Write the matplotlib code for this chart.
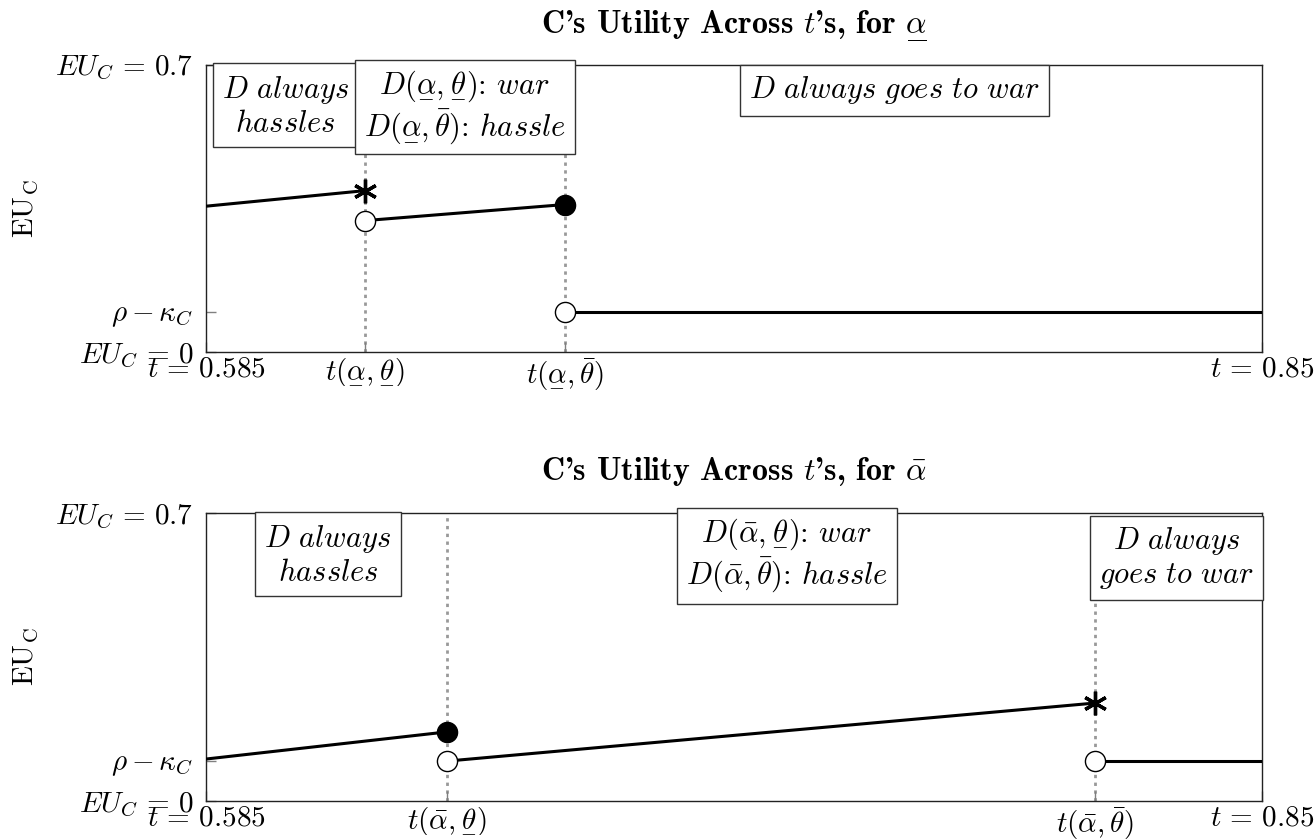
import matplotlib
matplotlib.use("Agg")
import matplotlib.pyplot as plt

plt.rcParams['mathtext.fontset'] = 'cm'
plt.rcParams['font.family'] = ['cmr10', 'DejaVu Serif']
plt.rcParams['axes.formatter.use_mathtext'] = True

# ---------------- data ----------------
t_min, t_max = 0.585, 0.85
u_min, u_max = 0.0, 0.7
war_payoff = 0.097  # rho - kappa_C

# panel for underline-alpha
lo_cuts = [0.625, 0.675]
lo_hassle_t = [0.585, 0.625]
lo_hassle_u = [0.355, 0.393]
lo_mixed_t = [0.625, 0.675]
lo_mixed_u = [0.320, 0.359]
lo_war_t = [0.675, 0.85]
lo_war_u = [0.097, 0.097]

# panel for bar-alpha
hi_cuts = [0.6455, 0.808]
hi_hassle_t = [0.585, 0.6455]
hi_hassle_u = [0.102, 0.168]
hi_mixed_t = [0.6455, 0.808]
hi_mixed_u = [0.097, 0.238]
hi_war_t = [0.808, 0.85]
hi_war_u = [0.097, 0.097]

ul = r"\underset{-}"
lo_xticks = [t_min] + lo_cuts + [t_max]
lo_xticklabels = [r"$t\,=\,0.585$", r"$t(" + ul + r"{\alpha}," + ul + r"{\theta})$",
                  r"$t(" + ul + r"{\alpha},\bar{\theta})$", r"$t\,=\,0.85$"]
hi_xticks = [t_min] + hi_cuts + [t_max]
hi_xticklabels = [r"$t\,=\,0.585$", r"$t(\bar{\alpha}," + ul + r"{\theta})$",
                  r"$t(\bar{\alpha},\bar{\theta})$", r"$t\,=\,0.85$"]
yticks = [u_min, war_payoff, u_max]
yticklabels = [r"$EU_C\,=\,0$", r"$\rho - \kappa_C$", r"$EU_C\,=\,0.7$"]

lo_title = r"C's Utility Across $t$'s, for $\underset{\overline{\ \ \,}}{\alpha}$"
lo_title_fallback = r"C's Utility Across $t$'s, for $" + ul + r"{\alpha}$"
hi_title = r"C's Utility Across $t$'s, for $\bar{\alpha}$"

# ---------------- figure ----------------
W, H = 1315, 840
fig = plt.figure(figsize=(W / 100, H / 100), dpi=100)
ax1 = fig.add_axes([206 / W, (H - 352) / H, 1056 / W, 287.5 / H])
ax2 = fig.add_axes([206 / W, (H - 801) / H, 1056 / W, 288 / H])

FS = 21
BFS = 22
TFS = 23
ast = (6, 2, 0)
msz = 14.5
line_kw = dict(color='black', lw=2.2, solid_capstyle='butt', zorder=3)
open_kw = dict(marker='o', ms=msz, mfc='white', mec='black', mew=1.0, ls='none', zorder=5)
fill_kw = dict(marker='o', ms=msz, mfc='black', mec='black', mew=1.0, ls='none', zorder=5)
ast_kw = dict(marker=ast, ms=17, mec='black', mew=2.4, ls='none', zorder=5)
box = dict(boxstyle='square,pad=0.3', fc='white', ec='#333333', lw=1.0)
title_kw = dict(fontsize=TFS, fontweight='bold', family=['cmb10', 'DejaVu Serif'], pad=24)


def style(ax, xticks, xticklabels, title):
    ax.set_xlim(t_min, t_max)
    ax.set_ylim(u_min, u_max)
    ax.set_xticks(xticks)
    ax.set_xticklabels(xticklabels, fontsize=FS)
    ax.set_yticks(yticks)
    ax.set_yticklabels(yticklabels, fontsize=FS)
    ax.tick_params(direction='in', length=7, width=1, color='#808080',
                   top=False, right=False)
    ax.tick_params(axis='x', pad=3)
    ax.tick_params(axis='y', pad=9)
    for s in ax.spines.values():
        s.set_color('#222222')
        s.set_linewidth(1.0)
    ax.set_title(title, **title_kw)
    ax.set_ylabel(r"$\mathrm{EU_C}$", fontsize=FS)
    ax.yaxis.set_label_coords(-0.157, 0.5)


# ---------- top panel ----------
for c in lo_cuts:
    ax1.axvline(c, color='#999999', lw=2.0, ls=(0, (1.2, 1.6)), zorder=1)
ax1.plot(lo_hassle_t, lo_hassle_u, **line_kw)
ax1.plot(lo_mixed_t, lo_mixed_u, **line_kw)
ax1.plot(lo_war_t, lo_war_u, **line_kw)
ax1.plot(lo_hassle_t[-1], lo_hassle_u[-1], **ast_kw)
ax1.plot(lo_mixed_t[0], lo_mixed_u[0], **open_kw)
ax1.plot(lo_mixed_t[-1], lo_mixed_u[-1], **fill_kw)
ax1.plot(lo_war_t[0], lo_war_u[0], **open_kw)
style(ax1, lo_xticks, lo_xticklabels, lo_title)

ax1.text(0.0753, 0.856, r"$D\ always$" + "\n" + r"$hassles$", transform=ax1.transAxes,
         ha='center', va='center', fontsize=BFS, bbox=box, zorder=6, linespacing=1.2)
ax1.text(0.245, 0.852, r"$D(" + ul + r"{\alpha}," + ul + r"{\theta})$: $war$" + "\n" +
         r"$D(" + ul + r"{\alpha},\bar{\theta})$: $hassle$", transform=ax1.transAxes,
         ha='center', va='center', fontsize=BFS, bbox=box, zorder=6, linespacing=1.2)
ax1.text(0.652, 0.9096, r"$D\ always\ goes\ to\ war$", transform=ax1.transAxes,
         ha='center', va='center', fontsize=BFS, bbox=box, zorder=6)

# ---------- bottom panel ----------
for c in hi_cuts:
    ax2.axvline(c, color='#999999', lw=2.0, ls=(0, (1.2, 1.6)), zorder=1)
ax2.plot(hi_hassle_t, hi_hassle_u, **line_kw)
ax2.plot(hi_mixed_t, hi_mixed_u, **line_kw)
ax2.plot(hi_war_t, hi_war_u, **line_kw)
ax2.plot(hi_hassle_t[-1], hi_hassle_u[-1], **fill_kw)
ax2.plot(hi_mixed_t[0], hi_mixed_u[0], **open_kw)
ax2.plot(hi_mixed_t[-1], hi_mixed_u[-1], **ast_kw)
ax2.plot(hi_war_t[0], hi_war_u[0], **open_kw)
style(ax2, hi_xticks, hi_xticklabels, hi_title)

ax2.text(0.1155, 0.855, r"$D\ always$" + "\n" + r"$hassles$", transform=ax2.transAxes,
         ha='center', va='center', fontsize=BFS, bbox=box, zorder=6, linespacing=1.2)
ax2.text(0.550, 0.851, r"$D(\bar{\alpha}," + ul + r"{\theta})$: $war$" + "\n" +
         r"$D(\bar{\alpha},\bar{\theta})$: $hassle$", transform=ax2.transAxes,
         ha='center', va='center', fontsize=BFS, bbox=box, zorder=6, linespacing=1.2)
ax2.text(0.919, 0.844, r"$D\ always$" + "\n" + r"$goes\ to\ war$", transform=ax2.transAxes,
         ha='center', va='center', fontsize=BFS, bbox=box, zorder=6, linespacing=1.2)

try:
    fig.canvas.draw()
except Exception:
    ax1.set_title(lo_title_fallback, **title_kw)

fig.savefig("out.png", dpi=100)
